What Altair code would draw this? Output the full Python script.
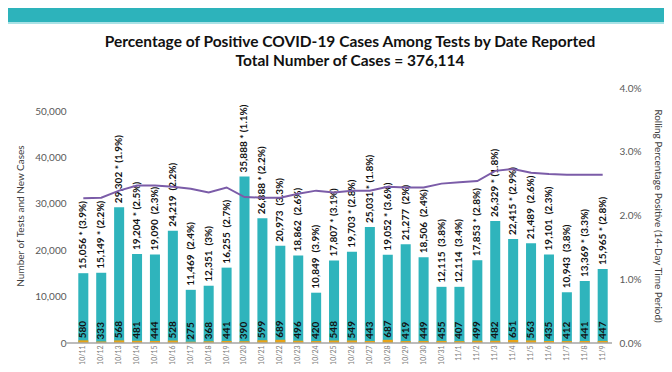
import altair as alt
import pandas as pd

title_lines = ["Percentage of Positive COVID-19 Cases Among Tests by Date Reported",
               "Total Number of Cases = 376,114"]
dates = ["10/11", "10/12", "10/13", "10/14", "10/15", "10/16", "10/17", "10/18", "10/19", "10/20",
         "10/21", "10/22", "10/23", "10/24", "10/25", "10/26", "10/27", "10/28", "10/29", "10/30",
         "10/31", "11/1", "11/2", "11/3", "11/4", "11/5", "11/6", "11/7", "11/8", "11/9"]
tests = [15056, 15149, 29302, 19204, 19090, 24219, 11469, 12351, 16255, 35888,
         26888, 20973, 18862, 10849, 17807, 19703, 25031, 19052, 21277, 18506,
         12115, 12114, 17853, 26329, 22415, 21489, 19101, 10943, 13369, 15965]
day_pct = ["3.9%", "2.2%", "1.9%", "2.5%", "2.3%", "2.2%", "2.4%", "3%", "2.7%", "1.1%",
           "2.2%", "3.3%", "2.6%", "3.9%", "3.1%", "2.8%", "1.8%", "3.6%", "2%", "2.4%",
           "3.8%", "3.4%", "2.8%", "1.8%", "2.9%", "2.6%", "2.3%", "3.8%", "3.3%", "2.8%"]
starred = [True, True, True, True, False, False, False, False, False, True,
           True, False, False, False, True, True, True, True, False, False,
           False, False, True, True, True, False, False, False, True, True]
cases = [580, 333, 568, 481, 444, 528, 275, 368, 441, 390,
         599, 689, 496, 420, 548, 549, 443, 687, 419, 449,
         455, 407, 499, 482, 651, 563, 435, 412, 441, 447]
rolling = [0.0227, 0.0228, 0.0239, 0.0247, 0.0247, 0.0245, 0.0242, 0.0236, 0.0244, 0.0229,
           0.0228, 0.0228, 0.0234, 0.0239, 0.0236, 0.0239, 0.0239, 0.0245, 0.0244, 0.0244,
           0.0250, 0.0252, 0.0254, 0.0270, 0.0273, 0.0267, 0.0265, 0.0264, 0.0264, 0.0264]

labels = [f"{t:,}" + (" * " if s else " \u00a0") + f"({p})" for t, p, s in zip(tests, day_pct, starred)]

df = pd.DataFrame({"date": dates, "tests": tests, "cases": cases, "rolling": rolling,
                   "label": labels, "case_label": [str(c) for c in cases]})
one = pd.DataFrame({"k": [0]})

W, H = 538, 255
PL, PT, PR, PB = 66, 80, 52, 21
FONT = "Lato"
TEAL = "#2fb4bc"

xenc = alt.X("date:N", sort=dates, axis=alt.Axis(title=None, labelAngle=270, labelFontSize=7,
             labelColor="#7a7a7a", labelPadding=2, ticks=False, domain=False, labelFont=FONT),
             scale=alt.Scale(paddingInner=0.44, paddingOuter=0.24))
yscale = alt.Scale(domain=[0, 55000])
yaxis = alt.Axis(title="Number of Tests and New Cases", values=[0, 10000, 20000, 30000, 40000, 50000],
                 format=",.0f", domain=False, ticks=False, labelPadding=8, labelFontSize=10,
                 labelColor="#595959", titleFontSize=10, titleFontWeight="normal", titleColor="#404040",
                 titlePadding=9, labelFont=FONT, titleFont=FONT)

base = alt.Chart(df)

bars = base.mark_bar(color=TEAL).encode(x=xenc, y=alt.Y("tests:Q", scale=yscale, axis=yaxis))
case_bars = base.mark_bar(color="#e8a317").encode(x=xenc, y=alt.Y("cases:Q", scale=yscale, axis=yaxis))
test_text = base.mark_text(angle=270, align="left", baseline="middle", dx=4, fontSize=10,
                           fontWeight="bold", font=FONT, color="#111111").encode(
    x=xenc, y=alt.Y("tests:Q", scale=yscale, axis=yaxis), text="label:N")
case_text = base.mark_text(angle=270, align="left", baseline="middle", dx=2, fontSize=10,
                           fontWeight="bold", font=FONT, color="#111111").encode(
    x=xenc, y=alt.Y("cases:Q", scale=yscale, axis=yaxis), text="case_label:N")

left = alt.layer(bars, case_bars, test_text, case_text)

line = base.mark_line(color="#7b5ca8", strokeWidth=2).encode(
    x=xenc,
    y=alt.Y("rolling:Q", scale=alt.Scale(domain=[0, 0.04]),
            axis=alt.Axis(orient="right", title="Rolling Percentage Positive (14-Day Time Period)",
                          values=[0, 0.01, 0.02, 0.03, 0.04], format=".1%", domain=False, ticks=False,
                          labelPadding=7, labelFontSize=10, labelColor="#595959", titleFontSize=10,
                          titleFontWeight="normal", titleColor="#404040", titlePadding=12,
                          labelFont=FONT, titleFont=FONT)))

banner = alt.Chart(one).mark_rect(color="#2db3bb").encode(
    x=alt.value(-PL), x2=alt.value(W + PR), y=alt.value(-PT), y2=alt.value(-PT + 14))
banner_line = alt.Chart(one).mark_rect(color="#a9e2e6").encode(
    x=alt.value(-PL), x2=alt.value(W + PR), y=alt.value(-PT + 14), y2=alt.value(-PT + 16))
baseline_rule = alt.Chart(one).mark_rule(color="#a6a6a6", strokeWidth=1.5).encode(
    x=alt.value(-9), x2=alt.value(W), y=alt.value(H))

title1 = alt.Chart(one).mark_text(align="center", baseline="alphabetic", fontSize=15.5, font=FONT,
                                  fontWeight="bold", color="#111111").encode(
    x=alt.value(276), y=alt.value(-41), text=alt.value(title_lines[0]))
title2 = alt.Chart(one).mark_text(align="center", baseline="alphabetic", fontSize=15.5, font=FONT,
                                  fontWeight="bold", color="#111111").encode(
    x=alt.value(276), y=alt.value(-22), text=alt.value(title_lines[1]))

chart = alt.layer(left, line, banner, banner_line, baseline_rule, title1, title2).resolve_scale(
    y="independent"
).properties(
    width=W, height=H,
    autosize=alt.AutoSizeParams(type="none"),
    padding={"left": PL, "top": PT, "right": PR, "bottom": PB},
).configure_view(stroke=None).configure_axis(grid=False)

chart.save("out.html", embed_options={"renderer": "svg", "actions": False})
